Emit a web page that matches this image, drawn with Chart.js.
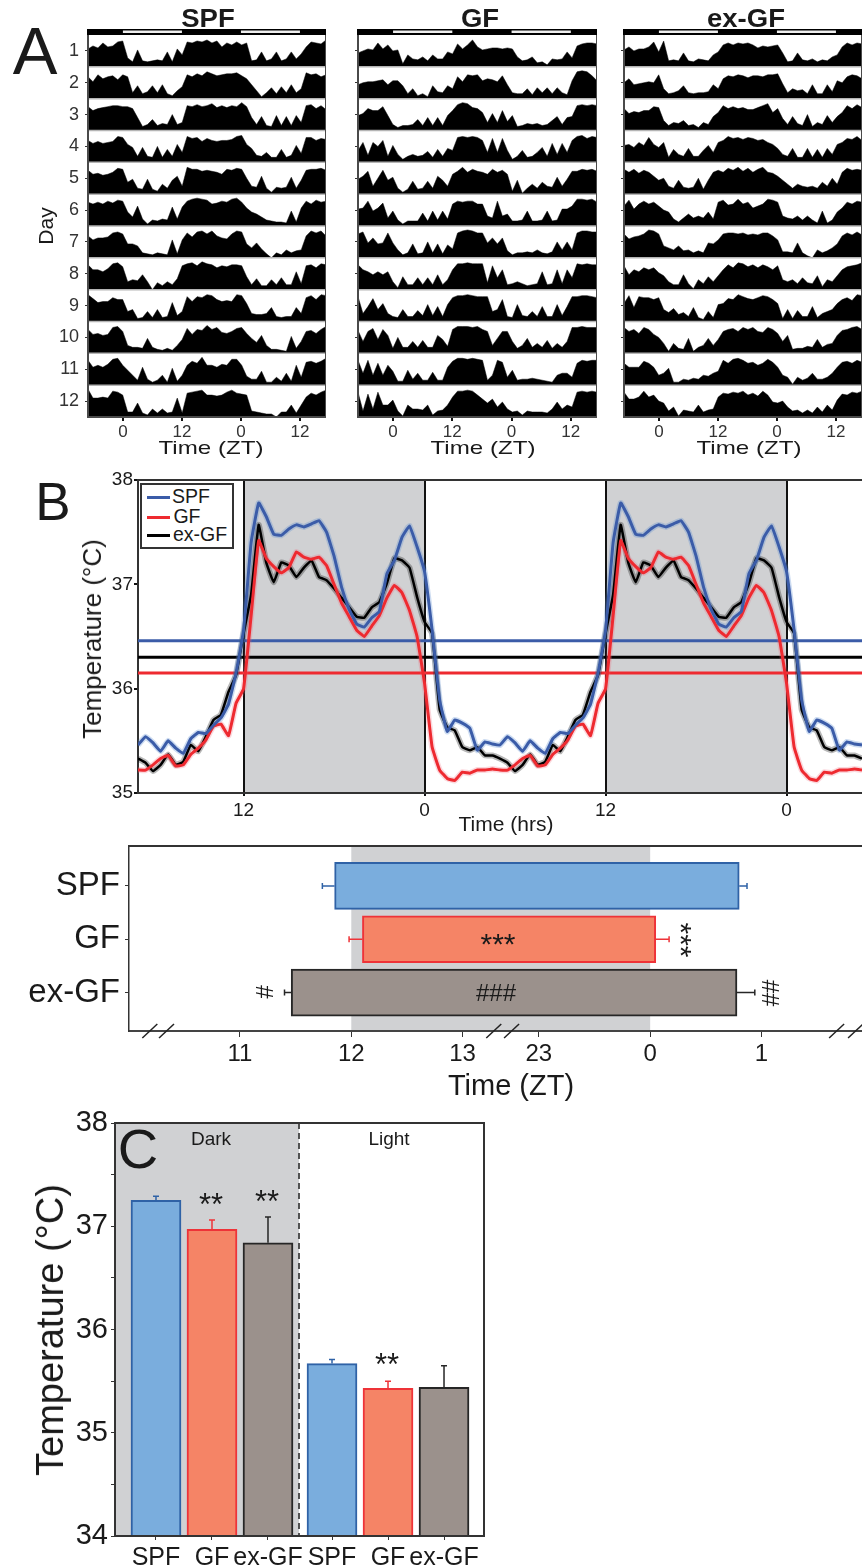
<!DOCTYPE html>
<html lang="en">
<head>
<meta charset="UTF-8">
<title>Body temperature rhythm in SPF, GF and ex-GF mice</title>
<style>
    html, body { margin: 0; padding: 0; background: #fff; }
    #figure { position: relative; width: 862px; height: 1568px; overflow: hidden; background: #fff; font-family: "Liberation Sans", Arial, sans-serif; color: #1a1a1a; }
    #figure canvas { position: absolute; }
    .note { position: absolute; line-height: 1; white-space: nowrap; }
    #legend { position: absolute; left: 140px; top: 483px; width: 90px; height: 62px; border: 2px solid #333; background: #fff; }
    .swatch { position: absolute; left: 5px; width: 23px; height: 3px; }
</style>
<script src="https://cdn.jsdelivr.net/npm/chart.js@4"></script>
</head>
<body>
<div id="figure"></div>

<script>
    // Panel A: activity height per hour, one row per day
    const dayNumbers = [1, 2, 3, 4, 5, 6, 7, 8, 9, 10, 11, 12];
    const ztTicks = [0, 12, 24, 36];
    const lightBars = [[0, 12], [24, 36]];

    const spfDays = [
        [18,21,19,24,20,21,25,26,9,5,17,6,5,6,7,6,15,5,18,12,25,24,26,25,27,24,26,20,24,22,25,22,24,6,7,15,6,8,15,6,8,15,8,13,20,25,24,23,27],
        [22,17,24,20,22,23,19,24,22,6,13,5,7,13,6,14,5,3,8,12,24,22,25,23,27,25,23,24,25,25,26,23,20,14,8,2,6,11,5,12,6,14,6,10,26,24,25,22,24],
        [24,20,22,23,24,25,25,24,24,22,13,4,6,11,5,7,6,16,6,8,25,24,26,24,25,27,23,25,23,25,24,28,24,13,6,14,5,4,15,5,14,5,15,8,25,26,22,25,21],
        [22,19,21,19,20,21,26,25,18,15,6,15,6,5,16,5,13,6,18,10,26,24,25,21,24,22,21,22,22,23,26,27,18,14,7,6,10,5,5,13,5,7,17,9,25,25,22,24,23],
        [24,20,21,19,20,22,26,25,12,15,6,5,15,5,3,10,6,14,18,8,27,25,25,23,24,23,22,20,25,24,26,25,16,8,7,18,6,2,7,6,7,17,6,14,24,25,25,26,24],
        [24,22,24,22,25,23,26,25,14,9,20,7,2,6,5,7,6,19,7,19,25,27,28,27,26,22,23,25,24,27,28,24,18,14,12,9,6,5,4,4,3,15,4,18,25,22,26,24,25],
        [22,18,20,20,21,25,26,24,14,14,12,5,4,3,5,4,3,18,4,18,25,21,26,27,24,27,22,20,19,24,27,26,14,10,15,9,4,0,5,3,8,5,7,8,22,27,25,27,22],
        [25,20,20,18,21,26,27,23,8,10,9,15,8,0,7,4,8,5,11,24,26,27,24,28,26,25,22,24,23,25,25,24,13,5,11,4,4,10,5,12,5,5,18,6,24,25,22,26,25],
        [27,23,19,20,20,24,22,22,10,12,3,4,10,4,12,4,5,19,6,10,25,20,25,24,27,26,22,20,21,20,27,26,18,8,7,7,8,14,5,4,5,5,14,8,24,26,22,27,26],
        [24,19,20,18,19,26,27,22,8,6,6,5,15,6,4,3,5,3,8,14,25,19,24,23,28,24,26,21,20,22,25,26,20,15,11,18,8,4,4,3,2,17,5,12,22,23,20,24,27],
        [25,18,20,18,21,26,27,20,15,10,5,18,6,3,5,10,3,17,4,10,20,24,22,28,20,20,18,21,20,26,26,20,9,6,6,14,3,3,8,4,12,4,20,8,23,24,22,24,27],
        [28,19,19,20,19,26,25,22,5,5,14,4,2,8,4,8,4,5,19,4,24,25,26,27,22,22,21,22,25,27,24,23,22,6,5,4,3,3,0,5,5,12,4,12,20,24,22,25,27]
    ];
    const gfDays = [
        [14,16,18,17,24,18,22,16,17,3,12,8,7,10,6,12,8,8,15,13,23,18,22,27,20,17,18,19,19,18,19,18,10,6,7,10,4,5,2,8,7,8,15,9,21,23,24,24,23],
        [14,16,17,17,18,19,14,18,18,13,5,10,3,5,2,13,7,6,13,10,22,17,24,23,24,18,20,19,17,23,14,6,5,5,10,4,11,6,11,5,11,6,4,18,27,28,27,23,18],
        [15,17,22,20,20,24,15,6,3,5,5,6,11,5,13,5,13,5,15,20,26,28,27,23,22,18,8,17,8,20,9,15,4,5,7,6,7,5,6,10,14,6,13,14,25,26,25,26,25],
        [12,20,7,20,16,22,6,17,8,3,6,8,6,7,11,5,13,6,14,12,25,26,25,26,25,22,10,24,10,24,12,3,6,12,5,6,10,15,6,19,8,19,10,22,26,27,24,26,25],
        [15,18,23,8,16,24,14,17,6,2,5,13,5,6,13,6,18,14,8,20,23,27,22,25,23,22,20,25,22,24,20,3,14,1,6,10,6,12,8,7,17,8,15,23,23,25,24,25,23],
        [17,18,25,15,18,23,8,15,6,2,5,5,5,13,5,15,6,15,7,22,25,24,25,25,22,22,10,8,25,10,12,5,5,6,15,5,5,6,15,5,6,17,17,20,27,27,26,27,24],
        [24,26,15,20,14,15,25,15,8,3,5,14,4,5,16,5,14,4,13,9,25,27,28,27,25,25,15,20,14,20,7,3,5,5,6,5,8,5,4,6,16,8,16,8,25,27,27,26,26],
        [25,20,18,15,18,15,18,8,2,13,5,5,12,5,12,5,15,5,10,20,26,26,27,26,26,26,7,24,12,20,5,6,8,6,4,5,6,18,5,6,20,6,20,12,26,25,26,25,25],
        [25,8,15,23,12,18,8,5,4,12,5,5,11,6,17,6,15,5,17,24,26,26,27,26,25,25,25,10,12,22,5,4,17,6,5,10,5,15,5,5,17,6,15,25,25,26,26,25,24],
        [23,12,22,25,14,24,18,5,16,6,6,12,6,13,6,6,18,14,7,24,27,27,27,26,27,24,22,8,15,22,22,12,5,8,15,6,10,6,13,5,10,6,12,26,26,27,26,26,26],
        [25,12,25,10,22,10,20,14,4,4,15,6,12,5,5,13,5,5,18,24,27,27,26,27,26,25,5,10,25,23,8,15,5,6,6,7,6,5,4,3,10,12,12,8,22,25,24,25,25],
        [25,6,23,8,25,12,12,17,6,1,12,8,8,7,12,2,6,7,12,20,26,26,27,26,22,18,14,18,10,15,8,5,6,2,6,5,5,5,4,8,15,8,12,10,25,26,25,26,25]
    ];
    const exGfDays = [
        [17,20,16,18,18,20,25,15,26,6,7,6,14,6,5,8,7,6,12,15,22,24,22,24,23,24,22,19,21,20,21,22,14,5,6,14,7,6,8,5,7,6,10,12,20,24,22,24,23],
        [16,20,14,15,16,17,16,24,10,5,6,8,13,6,5,6,6,7,14,10,20,23,22,24,23,21,23,23,22,24,24,25,15,6,10,8,9,5,14,5,5,14,7,18,16,22,24,23,20],
        [22,17,19,18,20,20,24,23,10,5,8,7,10,5,6,3,8,6,14,18,25,22,24,22,23,21,21,23,25,27,18,22,12,6,14,7,5,16,4,8,6,15,8,14,18,25,22,26,23],
        [17,18,15,20,17,25,18,15,20,5,13,8,6,14,6,6,12,17,10,20,22,26,24,25,23,25,24,22,23,20,18,14,8,6,14,5,5,14,5,13,5,14,8,18,20,24,23,26,22],
        [25,22,25,21,24,22,18,14,16,8,6,14,7,6,7,16,5,14,22,24,22,26,24,27,23,26,22,25,27,22,21,18,14,10,6,10,8,7,8,6,12,8,16,10,22,26,24,25,24],
        [20,26,17,22,25,22,24,20,16,14,7,4,8,12,8,10,8,14,7,24,26,21,22,27,22,24,18,20,22,27,26,24,10,8,7,10,6,10,6,3,15,3,6,14,18,24,22,25,24],
        [24,19,21,22,24,28,27,24,12,10,8,12,7,8,5,7,5,15,14,18,24,25,25,24,25,23,24,23,25,25,22,18,6,6,5,15,5,2,0,8,5,7,10,14,22,25,23,26,23],
        [24,15,20,18,22,20,22,17,14,8,5,5,15,6,1,10,6,13,8,14,20,25,22,27,26,23,25,22,25,23,20,24,10,8,10,6,12,7,6,14,3,10,8,14,20,23,24,25,27],
        [18,26,14,25,24,24,22,24,12,9,13,7,9,5,14,4,2,10,4,17,18,23,22,27,25,23,22,24,26,25,22,18,3,12,3,11,5,5,15,4,8,10,12,18,22,24,21,27,26],
        [26,22,24,20,26,24,19,16,10,2,10,5,4,15,2,6,8,15,8,14,22,24,25,22,26,24,26,22,21,26,24,20,12,18,4,5,5,7,6,14,6,9,10,18,23,24,26,27,24],
        [22,18,18,18,24,22,18,10,12,17,3,3,6,5,7,6,10,9,12,14,25,22,26,27,25,22,23,20,22,26,23,18,10,8,1,8,5,7,12,6,6,8,12,18,23,24,22,25,23],
        [25,18,18,20,26,20,22,16,14,6,10,1,7,6,5,12,5,7,8,20,24,23,25,24,26,22,24,21,26,22,15,14,16,10,6,7,4,7,4,10,5,12,7,17,23,22,25,24,26]
    ];

    // Panel B: mean temperature every half hour from ZT5, the 24 h are plotted twice
    const traceHours = [5,5.5,6,6.5,7,7.5,8,8.5,9,9.5,10,10.5,11,11.5,12,12.5,13,13.5,14,14.5,15,15.5,16,16.5,17,17.5,18,18.5,19,19.5,20,20.5,21,21.5,22,22.5,23,23.5,24,24.5,25,25.5,26,26.5,27,27.5,28,28.5];
    const spfTrace = [35.46,35.54,35.48,35.40,35.50,35.43,35.38,35.52,35.58,35.57,35.65,35.72,35.85,36.15,36.56,37.40,37.78,37.65,37.48,37.47,37.53,37.57,37.55,37.58,37.61,37.50,37.27,36.97,36.76,36.62,36.59,36.68,36.74,37.10,37.23,37.45,37.56,37.36,37.12,36.56,35.89,35.59,35.70,35.67,35.62,35.41,35.49,35.47];
    const gfTrace = [35.22,35.22,35.27,35.33,35.36,35.26,35.27,35.37,35.43,35.51,35.64,35.66,35.55,35.86,36.00,36.70,37.42,37.25,37.17,37.11,37.16,37.31,37.26,37.24,37.26,37.18,37.00,36.82,36.69,36.56,36.50,36.60,36.70,36.87,36.99,36.92,36.75,36.50,36.05,35.44,35.22,35.14,35.12,35.20,35.19,35.22,35.22,35.23];
    const exGfTrace = [35.33,35.29,35.21,35.27,35.37,35.27,35.30,35.46,35.40,35.54,35.70,35.75,35.97,36.13,36.53,36.90,37.57,37.21,37.02,37.21,37.18,37.07,37.16,37.23,37.07,37.04,36.96,36.87,36.78,36.69,36.68,36.78,36.83,37.01,37.25,37.23,37.16,36.88,36.64,36.53,35.80,35.63,35.60,35.44,35.41,35.44,35.36,35.36];
    const dailyMeans = [36.46, 36.15, 36.30];
    const hourTicks = [12, 24, 36, 48];
    const darkSpans = [[12, 24], [36, 48]];
    const tempTicksB = [35, 36, 37, 38];

    // Panel B lower: onset and offset of the high temperature phase (ZT)
    const groups = ['SPF', 'GF', 'ex-GF'];
    const onsetZT = [11.85, 12.10, 11.46];
    const offsetZT = [0.80, 0.05, 0.78];
    const onsetErrZT = [11.74, 11.98, 11.40];
    const offsetErrZT = [0.87, 0.17, 0.94];
    const phaseTicksZT = [11, 12, 13, 23, 0, 1];

    // Panel C: mean temperature in dark and light phase
    const barLabels = ['SPF', 'GF', 'ex-GF', 'SPF', 'GF', 'ex-GF'];
    const barTemps = [37.25, 36.97, 36.84, 35.67, 35.43, 35.44];
    const barErrTops = [37.29, 37.06, 37.09, 35.71, 35.50, 35.65];

    const BLUE = '#3b5ca8', RED = '#ee2a30';
    const BAR_BLUE = '#7aaddd', BAR_RED = '#f58466', BAR_GREY = '#9b918c';
    const EDGE_BLUE = '#2f62a6', EDGE_RED = '#ee3338', EDGE_GREY = '#262626';
    const SHADE = '#d0d1d3', INK = '#1a1a1a';

    Chart.defaults.font.family = '"Liberation Sans", Arial, sans-serif';
    Chart.defaults.color = INK;
    Chart.defaults.animation = false;
    Chart.defaults.responsive = false;
    Chart.defaults.plugins.legend.display = false;
    Chart.defaults.plugins.tooltip.enabled = false;

    const figure = document.getElementById('figure');

    function addCanvas(left, top, width, height) {
        const canvas = document.createElement('canvas');
        canvas.width = width;
        canvas.height = height;
        canvas.style.left = left + 'px';
        canvas.style.top = top + 'px';
        figure.appendChild(canvas);
        return canvas;
    }

    function addNote(text, x, y, size, opts = {}) {
        const el = document.createElement('div');
        el.className = 'note';
        el.textContent = text;
        el.style.left = x + 'px';
        el.style.top = y + 'px';
        el.style.fontSize = size + 'px';
        if (opts.bold) el.style.fontWeight = 'bold';
        el.style.transform = 'translate(-50%, -50%) rotate(' + (opts.rot || 0) + 'deg) scaleX(' + (opts.sx || 1) + ')';
        figure.appendChild(el);
    }

    /**
     * Draws one actogram column of panel A
     */
    function drawActogram(rows, left, right, showDays) {
        const axisWidth = 40;
        const xMin = -7.1, xMax = 41.3;
        const datasets = rows.map((row, r) => {
            const base = dayNumbers[r] + 0.5;
            return {
                data: row.map((h, i) => ({ x: xMin + i * (xMax - xMin) / (row.length - 1), y: base - h / 32 })),
                fill: { value: base },
                backgroundColor: '#000',
                borderColor: '#000',
                borderWidth: 0.5,
                pointRadius: 0,
                tension: 0
            };
        });
        new Chart(addCanvas(left - axisWidth, 15, right - left + axisWidth, 430), {
            type: 'line',
            data: { datasets },
            options: {
                layout: { padding: { top: 20 } },
                scales: {
                    x: {
                        type: 'linear', min: xMin, max: xMax,
                        afterBuildTicks: a => { a.ticks = ztTicks.map(v => ({ value: v })); },
                        afterFit: a => { a.height = 28; },
                        grid: { drawOnChartArea: false, tickLength: 4, tickColor: '#111', lineWidth: 2 },
                        border: { display: false },
                        ticks: { autoSkip: false, maxRotation: 0, padding: 1, color: '#333', font: { size: 17 }, callback: v => v % 24 }
                    },
                    y: {
                        type: 'linear', reverse: true, min: 0.5, max: 12.5,
                        afterBuildTicks: a => { a.ticks = dayNumbers.map(v => ({ value: v })); },
                        afterFit: a => { a.width = axisWidth; },
                        grid: { drawOnChartArea: false, tickLength: 3, tickColor: '#333' },
                        border: { display: false },
                        ticks: { autoSkip: false, padding: 6, color: '#333', font: { size: 18 }, callback: v => showDays ? v : '' }
                    }
                }
            },
            plugins: [{
                id: 'actogramFrame',
                afterDatasetsDraw(chart) {
                    const { ctx, chartArea: area, scales } = chart;
                    ctx.save();
                    ctx.strokeStyle = '#b5b5b5';
                    ctx.lineWidth = 1.5;
                    dayNumbers.forEach(d => {
                        const y = scales.y.getPixelForValue(d + 0.5);
                        ctx.beginPath(); ctx.moveTo(area.left, y); ctx.lineTo(area.right, y); ctx.stroke();
                    });
                    // black and white bar on top marks the dark and light phase
                    ctx.fillStyle = '#000';
                    ctx.fillRect(area.left - 1, area.top - 6, area.width + 2, 6);
                    ctx.fillStyle = '#eee';
                    lightBars.forEach(([a, b]) => {
                        const x0 = scales.x.getPixelForValue(a), x1 = scales.x.getPixelForValue(b);
                        ctx.fillRect(x0, area.top - 4.5, x1 - x0, 2.5);
                    });
                    ctx.strokeStyle = '#4a4a4a';
                    ctx.lineWidth = 2;
                    ctx.beginPath();
                    ctx.moveTo(area.left, area.top);
                    ctx.lineTo(area.left, area.bottom);
                    ctx.lineTo(area.right, area.bottom);
                    ctx.lineTo(area.right, area.top);
                    ctx.stroke();
                    ctx.restore();
                }
            }]
        });
    }

    drawActogram(spfDays, 88, 326, true);
    drawActogram(gfDays, 358, 597, false);
    drawActogram(exGfDays, 624, 862, false);

    /**
     * Draws the double plotted temperature traces of panel B
     */
    function doublePlot(values) {
        const points = [];
        [0, 24].forEach(shift => traceHours.forEach((h, i) => points.push({ x: h + shift, y: values[i] })));
        points.push({ x: 53, y: values[0] });
        return points;
    }

    function traceSet(values, color, halo, order) {
        return [
            { data: doublePlot(values), borderColor: color, borderWidth: order === 3 ? 2.5 : 3, pointRadius: 0, tension: 0.1, order },
            { data: doublePlot(values), borderColor: halo, borderWidth: 6, pointRadius: 0, tension: 0.1, order: order + 10 }
        ];
    }

    function meanLine(value, color) {
        return { data: [{ x: 5, y: value }, { x: 53, y: value }], borderColor: color, borderWidth: 3, pointRadius: 0, order: 20 };
    }

    new Chart(addCanvas(0, 465, 862, 365), {
        type: 'line',
        data: {
            datasets: [
                ...traceSet(spfTrace, BLUE, 'rgba(90,140,210,0.3)', 1),
                ...traceSet(gfTrace, RED, 'rgba(240,100,120,0.25)', 2),
                ...traceSet(exGfTrace, '#000', 'rgba(0,0,0,0.28)', 3),
                meanLine(dailyMeans[0], BLUE),
                meanLine(dailyMeans[1], RED),
                meanLine(dailyMeans[2], '#000')
            ]
        },
        options: {
            layout: { padding: { top: 15 } },
            scales: {
                x: {
                    type: 'linear', min: 5, max: 53,
                    afterBuildTicks: a => { a.ticks = hourTicks.map(v => ({ value: v })); },
                    afterFit: a => { a.height = 37; },
                    grid: { color: '#111', lineWidth: 2, tickLength: 3, tickColor: '#111' },
                    border: { color: '#333', width: 2 },
                    ticks: { autoSkip: false, maxRotation: 0, padding: 3, font: { size: 19 }, callback: v => v % 24 }
                },
                y: {
                    type: 'linear', min: 35, max: 38,
                    afterBuildTicks: a => { a.ticks = tempTicksB.map(v => ({ value: v })); },
                    afterFit: a => { a.width = 138; },
                    grid: { drawOnChartArea: false, tickLength: 4, tickColor: '#111', lineWidth: 2 },
                    border: { color: '#333', width: 2 },
                    ticks: { autoSkip: false, padding: 1, font: { size: 19 } }
                }
            }
        },
        plugins: [{
            id: 'darkPhase',
            beforeDraw(chart) {
                const { ctx, chartArea: area, scales } = chart;
                ctx.save();
                ctx.fillStyle = SHADE;
                darkSpans.forEach(([a, b]) => {
                    const x0 = scales.x.getPixelForValue(a), x1 = scales.x.getPixelForValue(b);
                    ctx.fillRect(x0, area.top, x1 - x0, area.height);
                });
                ctx.restore();
            },
            afterDraw(chart) {
                const { ctx, chartArea: area } = chart;
                ctx.save();
                ctx.strokeStyle = '#333';
                ctx.lineWidth = 2;
                ctx.beginPath(); ctx.moveTo(area.left, area.top); ctx.lineTo(area.right, area.top); ctx.stroke();
                ctx.restore();
            }
        }]
    });

    // the time axis of the phase plot is cut between ZT13 and ZT23
    const axisCut = 9.315;
    const phaseAxis = zt => zt < 6 ? zt + 24 - axisCut : (zt >= 20 ? zt - axisCut : zt);
    const cutMarks = [10.19, 10.34, 13.28, 13.44, 16.36, 16.53];
    const phaseEdges = [EDGE_BLUE, EDGE_RED, EDGE_GREY];

    new Chart(addCanvas(0, 815, 862, 260), {
        type: 'bar',
        data: {
            datasets: [{
                data: groups.map((g, i) => ({ x: [phaseAxis(onsetZT[i]), phaseAxis(offsetZT[i])], y: i })),
                backgroundColor: [BAR_BLUE, BAR_RED, BAR_GREY],
                borderColor: phaseEdges,
                borderWidth: 2,
                borderSkipped: false,
                barThickness: 47
            }]
        },
        options: {
            indexAxis: 'y',
            layout: { padding: { top: 31 } },
            scales: {
                x: {
                    type: 'linear', min: 10.003, max: 16.588,
                    afterBuildTicks: a => { a.ticks = phaseTicksZT.map(v => ({ value: phaseAxis(v) })); },
                    afterFit: a => { a.height = 44; },
                    grid: { drawOnChartArea: false, tickLength: 6, tickColor: '#333' },
                    border: { color: '#444', width: 2 },
                    ticks: {
                        autoSkip: false, maxRotation: 0, padding: 3, font: { size: 24 },
                        callback: (v, i) => phaseTicksZT[i]
                    }
                },
                y: {
                    type: 'linear', reverse: true, min: -0.748, max: 2.72, offset: false,
                    afterBuildTicks: a => { a.ticks = groups.map((g, i) => ({ value: i })); },
                    afterFit: a => { a.width = 129; },
                    grid: { offset: false, drawOnChartArea: false, tickLength: 4, tickColor: '#333' },
                    border: { color: '#333', width: 1.5 },
                    ticks: { autoSkip: false, padding: 5, font: { size: 33 }, callback: (v, i) => groups[i] }
                }
            }
        },
        plugins: [{
            id: 'phaseDecor',
            beforeDraw(chart) {
                const { ctx, chartArea: area, scales } = chart;
                const x0 = scales.x.getPixelForValue(12), x1 = scales.x.getPixelForValue(phaseAxis(0));
                ctx.save();
                ctx.fillStyle = SHADE;
                ctx.fillRect(x0, area.top, x1 - x0, area.height);
                ctx.restore();
            },
            afterDraw(chart) {
                const { ctx, chartArea: area, scales } = chart;
                ctx.save();
                ctx.strokeStyle = '#333';
                ctx.lineWidth = 2;
                ctx.beginPath(); ctx.moveTo(area.left, area.top); ctx.lineTo(area.right, area.top); ctx.stroke();
                // error whiskers on both ends of the bars
                ctx.lineWidth = 1.5;
                groups.forEach((g, i) => {
                    const y = scales.y.getPixelForValue(i);
                    ctx.strokeStyle = phaseEdges[i];
                    [[onsetZT[i], onsetErrZT[i]], [offsetZT[i], offsetErrZT[i]]].forEach(([from, to]) => {
                        const a = scales.x.getPixelForValue(phaseAxis(from)), b = scales.x.getPixelForValue(phaseAxis(to));
                        ctx.beginPath();
                        ctx.moveTo(a, y); ctx.lineTo(b, y);
                        ctx.moveTo(b, y - 3); ctx.lineTo(b, y + 3);
                        ctx.stroke();
                    });
                });
                // axis break marks
                ctx.strokeStyle = '#222';
                cutMarks.forEach(v => {
                    const x = scales.x.getPixelForValue(v);
                    ctx.beginPath(); ctx.moveTo(x - 7.5, area.bottom + 7); ctx.lineTo(x + 7.5, area.bottom - 7); ctx.stroke();
                });
                ctx.restore();
            }
        }]
    });

    // Panel C bars, the light phase group sits a bit further to the right
    const barSlots = [1, 2, 3, 4.143, 5.143, 6.143];
    const splitSlot = 3.554;
    const barEdges = [EDGE_BLUE, EDGE_RED, EDGE_GREY, EDGE_BLUE, EDGE_RED, EDGE_GREY];

    new Chart(addCanvas(0, 1100, 490, 468), {
        type: 'bar',
        data: {
            datasets: [{
                data: barTemps.map((t, i) => ({ x: barSlots[i], y: t })),
                backgroundColor: [BAR_BLUE, BAR_RED, BAR_GREY, BAR_BLUE, BAR_RED, BAR_GREY],
                borderColor: barEdges,
                borderWidth: 2,
                borderSkipped: false,
                barThickness: 50
            }]
        },
        options: {
            layout: { padding: { top: 23, right: 6 } },
            scales: {
                x: {
                    type: 'linear', min: 0.268, max: 6.857, offset: false,
                    afterBuildTicks: a => { a.ticks = barSlots.map(v => ({ value: v })); },
                    afterFit: a => { a.height = 32; },
                    grid: { offset: false, drawOnChartArea: false, tickLength: 4, tickColor: '#333' },
                    border: { color: '#333', width: 2 },
                    ticks: { autoSkip: false, maxRotation: 0, padding: 3, font: { size: 25 }, callback: (v, i) => barLabels[i] }
                },
                y: {
                    type: 'linear', min: 34, max: 38,
                    ticks: { stepSize: 0.5, autoSkip: false, padding: 3, font: { size: 29 }, callback: v => Number.isInteger(v) ? v : '' },
                    afterFit: a => { a.width = 115; },
                    grid: { drawOnChartArea: false, tickLength: 4, tickColor: '#333' },
                    border: { color: '#333', width: 2 }
                }
            }
        },
        plugins: [{
            id: 'phaseSplit',
            beforeDraw(chart) {
                const { ctx, chartArea: area, scales } = chart;
                const x = scales.x.getPixelForValue(splitSlot);
                ctx.save();
                ctx.fillStyle = SHADE;
                ctx.fillRect(area.left, area.top, x - area.left, area.height);
                ctx.restore();
            },
            afterDraw(chart) {
                const { ctx, chartArea: area, scales } = chart;
                const x = scales.x.getPixelForValue(splitSlot);
                ctx.save();
                ctx.strokeStyle = '#222';
                ctx.lineWidth = 1.5;
                ctx.setLineDash([6, 4]);
                ctx.beginPath(); ctx.moveTo(x, area.top); ctx.lineTo(x, area.bottom); ctx.stroke();
                ctx.setLineDash([]);
                ctx.strokeStyle = '#333';
                ctx.lineWidth = 2;
                ctx.strokeRect(area.left, area.top, area.width, area.height);
                // error bars only go up
                barTemps.forEach((t, i) => {
                    const bx = scales.x.getPixelForValue(barSlots[i]);
                    const y0 = scales.y.getPixelForValue(t), y1 = scales.y.getPixelForValue(barErrTops[i]);
                    ctx.strokeStyle = barEdges[i];
                    ctx.lineWidth = 1.5;
                    ctx.beginPath();
                    ctx.moveTo(bx, y0); ctx.lineTo(bx, y1);
                    ctx.moveTo(bx - 3, y1); ctx.lineTo(bx + 3, y1);
                    ctx.stroke();
                });
                ctx.restore();
            }
        }]
    });

    // Legend of panel B
    const legend = document.createElement('div');
    legend.id = 'legend';
    figure.appendChild(legend);
    [[BLUE, 11], [RED, 31], ['#000', 49]].forEach(([color, top]) => {
        const s = document.createElement('div');
        s.className = 'swatch';
        s.style.background = color;
        s.style.top = top + 'px';
        legend.appendChild(s);
    });
    addNote('SPF', 191, 497, 19.5);
    addNote('GF', 187, 517, 19.5);
    addNote('ex-GF', 200, 535, 19.5);

    // Panel letters and free text
    addNote('A', 35, 50, 67);
    addNote('B', 53, 501, 53);
    addNote('C', 138, 1149, 56);

    addNote('SPF', 208, 18, 25, { bold: true, sx: 1.1 });
    addNote('GF', 480, 18, 25, { bold: true, sx: 1.1 });
    addNote('ex-GF', 746, 18, 25, { bold: true, sx: 1.1 });
    addNote('Day', 45, 226, 21, { rot: -90 });
    addNote('Time (ZT)', 211, 447, 19, { sx: 1.27 });
    addNote('Time (ZT)', 483, 447, 19, { sx: 1.27 });
    addNote('Time (ZT)', 749, 447, 19, { sx: 1.27 });

    addNote('Temperature (°C)', 92, 639, 26, { rot: -90 });
    addNote('Time (hrs)', 506, 823, 21);

    addNote('***', 498, 944, 30);
    addNote('***', 681, 940, 30, { rot: 90 });
    addNote('#', 264, 992, 24, { rot: 90 });
    addNote('###', 496, 993, 24);
    addNote('##', 770, 993, 24, { rot: 90 });
    addNote('Time (ZT)', 511, 1085, 29);

    addNote('Temperature (°C)', 50, 1330, 38, { rot: -90 });
    addNote('Dark', 211, 1138, 19);
    addNote('Light', 389, 1138, 19);
    addNote('**', 211, 1204, 31);
    addNote('**', 267, 1201, 31);
    addNote('**', 387, 1364, 31);
</script>

</body>
</html>
